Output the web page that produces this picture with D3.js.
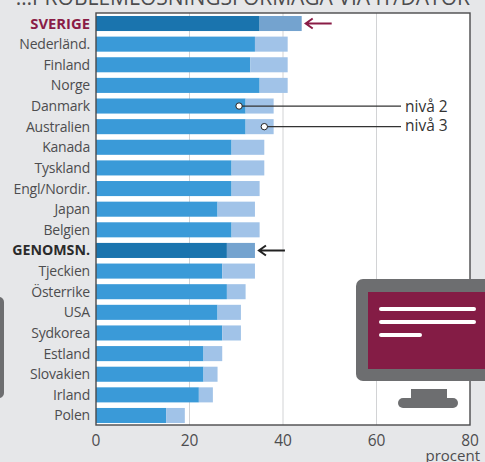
<!DOCTYPE html>
<html><head><meta charset="utf-8">
<script src="https://cdn.jsdelivr.net/npm/d3@7"></script>
<style>html,body{margin:0;padding:0;background:#e6e7e9;overflow:hidden}svg{display:block}text{font-family:"Open Sans",sans-serif}</style>
</head><body><svg id="c" width="485" height="462"></svg>
<script>
(function(){
const categories=["SVERIGE","Nederländ.","Finland","Norge","Danmark","Australien","Kanada","Tyskland","Engl/Nordir.","Japan","Belgien","GENOMSN.","Tjeckien","Österrike","USA","Sydkorea","Estland","Slovakien","Irland","Polen"];
const level2=[35,34,33,35,32,32,29,29,29,26,29,28,27,28,26,27,23,23,22,15];
const level3=[9,7,8,6,6,6,7,7,6,8,6,6,7,4,5,4,4,3,3,4];
const ticks=[0,20,40,60,80];
const title="…PROBLEMLÖSNINGSFÖRMÅGA VIA IT/DATOR";
const highlights={"SVERIGE":{a:"#1a74ae",b:"#74a3cf",t:"#8a1c46"},"GENOMSN.":{a:"#1a74ae",b:"#74a3cf",t:"#2b2b2b"}};
const svg=d3.select("#c");
const x=d3.scaleLinear().domain([0,80]).range([96,470]);
const y=d3.scaleBand().domain(categories).range([13.5,425.5]).paddingInner(0.27).paddingOuter(0.12);
const plotTop=13,plotBot=425;
svg.append("rect").attr("x",96).attr("y",plotTop).attr("width",374).attr("height",plotBot-plotTop).attr("fill","#fff");
svg.selectAll(".g").data(ticks.slice(1,4)).join("line").attr("x1",d=>x(d)).attr("x2",d=>x(d)).attr("y1",plotTop).attr("y2",plotBot).attr("stroke","#d2d3d5").attr("stroke-width",1);
const rows=svg.selectAll(".r").data(categories).join("g");
rows.append("rect").attr("x",x(0)).attr("y",d=>y(d)).attr("height",y.bandwidth()).attr("width",(d,i)=>x(level2[i])-x(0)).attr("fill",d=>highlights[d]?highlights[d].a:"#3a9ad8");
rows.append("rect").attr("x",(d,i)=>x(level2[i])).attr("y",d=>y(d)).attr("height",y.bandwidth()).attr("width",(d,i)=>x(level2[i]+level3[i])-x(level2[i])).attr("fill",d=>highlights[d]?highlights[d].b:"#a1c3e8");
rows.append("text").attr("x",90).attr("y",d=>y(d)+y.bandwidth()/2+5).attr("text-anchor","end").attr("font-size",d=>highlights[d]?(d==="SVERIGE"?14.8:14.2):14).attr("letter-spacing",d=>highlights[d]?0:-0.2)
 .attr("font-weight",d=>highlights[d]?700:400).attr("fill",d=>highlights[d]?highlights[d].t:"#4d4d4f").text(d=>d);
svg.append("rect").attr("x",96).attr("y",plotTop).attr("width",374).attr("height",plotBot-plotTop).attr("fill","none").attr("stroke","#4a4a4c").attr("stroke-width",1.4);
svg.selectAll(".t").data(ticks).join("text").attr("x",d=>x(d)).attr("y",446).attr("text-anchor","middle").attr("font-size",15.5).attr("fill","#4d4d4f").text(d=>d);
svg.append("text").attr("x",480).attr("y",461).attr("text-anchor","end").attr("font-size",15).attr("fill","#4d4d4f").text("procent");
svg.append("text").attr("x",470).attr("y",5).attr("text-anchor","end").attr("font-size",21).attr("fill","#4d4d4f").text(title);
const yD=y("Danmark")+y.bandwidth()/2, yA=y("Australien")+y.bandwidth()/2;
[[x(30.6),yD,"nivå 2"],[x(36),yA,"nivå 3"]].forEach(([cx,cy,t],i)=>{
 svg.append("line").attr("x1",cx).attr("x2",401).attr("y1",cy).attr("y2",cy).attr("stroke","#333").attr("stroke-width",1.2);
 svg.append("circle").attr("cx",cx).attr("cy",cy).attr("r",3.2).attr("fill","#fff").attr("stroke","#222").attr("stroke-width",1);
 svg.append("text").attr("x",405).attr("y",cy+(i?-1:1)+5).attr("font-size",15.5).attr("fill","#333").text(t);
});
function arrow(cat,v,color,len){const cy=y(cat)+y.bandwidth()/2,xa=x(v)+4;
 svg.append("path").attr("d",`M${xa+len},${cy}H${xa}M${xa+7},${cy-5}L${xa},${cy}L${xa+7},${cy+5}`).attr("fill","none").attr("stroke",color).attr("stroke-width",2);}
arrow("SVERIGE",44,"#8a1c46",26);arrow("GENOMSN.",34,"#222",26);
svg.append("rect").attr("x",-10).attr("y",297).attr("width",14).attr("height",101).attr("rx",5).attr("fill","#6d6e70");
svg.append("rect").attr("x",356).attr("y",279).attr("width",150).attr("height",102).attr("rx",7).attr("fill","#6d6e70");
svg.append("rect").attr("x",368).attr("y",292).attr("width",130).attr("height",77).attr("fill","#841c45");
[[381,474,309],[381,474,322],[381,420,335]].forEach(([a,b,c])=>svg.append("line").attr("x1",a).attr("x2",b).attr("y1",c).attr("y2",c).attr("stroke","#fff").attr("stroke-width",4).attr("stroke-linecap","round"));
svg.append("rect").attr("x",411).attr("y",389).attr("width",36).attr("height",12).attr("fill","#6d6e70");
svg.append("rect").attr("x",398).attr("y",398).attr("width",60).attr("height",10).attr("rx",5).attr("fill","#6d6e70");
})();
</script></body></html>
